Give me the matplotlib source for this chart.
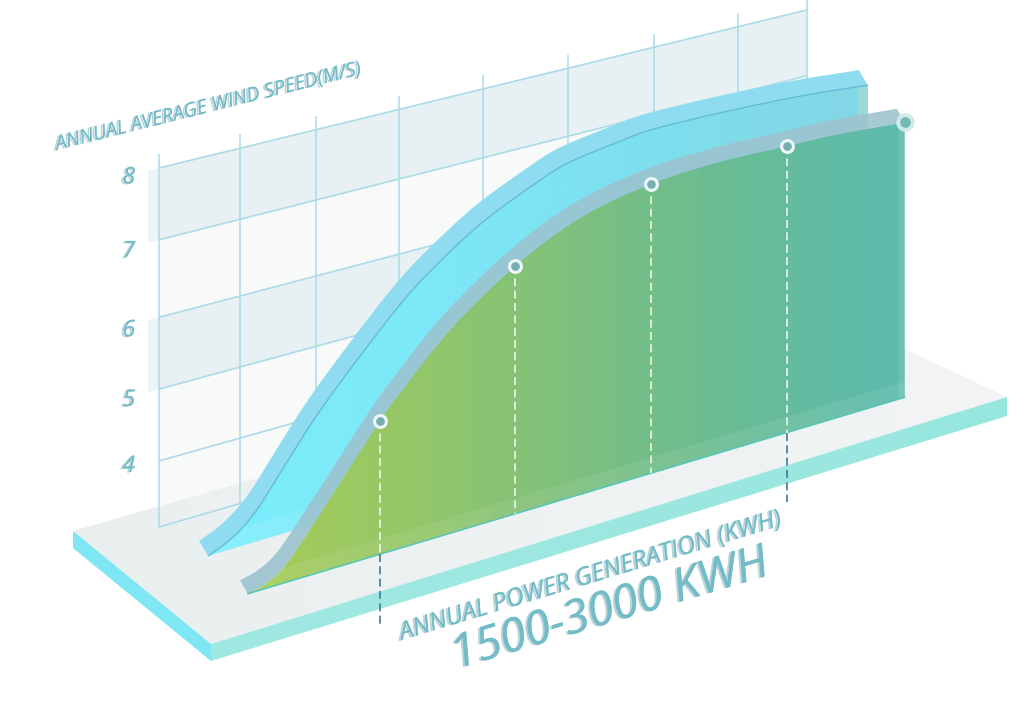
import numpy as np
import matplotlib
matplotlib.use("Agg")
import matplotlib.pyplot as plt
import matplotlib.patheffects as pe
from matplotlib.colors import LinearSegmentedColormap
from matplotlib.patches import PathPatch, Polygon
from matplotlib.path import Path

# ---- data ----
power_front = [1135, 1182, 1232, 1287, 1389, 1500, 1555, 1693, 1873, 2052, 2248, 2439, 2624, 2770, 2950]
speed_front = [3.00, 3.06, 3.21, 3.52, 4.16, 4.86, 5.16, 5.83, 6.45, 6.85, 7.03, 7.05, 6.99, 6.94, 6.83]
power_back = [1025, 1094, 1160, 1243, 1326, 1431, 1555, 1644, 1785, 1942, 2025, 2163, 2254, 2439, 2660, 2848]
speed_back = [3.00, 3.16, 3.44, 3.98, 4.51, 5.08, 5.70, 6.06, 6.51, 6.85, 6.98, 7.06, 7.09, 7.04, 6.94, 6.81]
marker_power = [1500, 1873, 2248, 2624, 2950]
marker_speed = [4.86, 6.45, 7.03, 6.99, 6.83]
leader_power = [1500, 2624]
grid_power = [889, 1113, 1323, 1552, 1785, 2019, 2257, 2489, 2680]
grid_speed = [3.0, 3.92, 4.92, 5.92, 7.0, 8.0]
tick_speed = [3.85, 4.77, 5.74, 6.84, 7.87]
tick_labels = ["4", "5", "6", "7", "8"]
y_title = "ANNUAL AVERAGE WIND SPEED(M/S)"
x_title = "ANNUAL POWER GENERATION (KWH)"
range_title = "1500-3000 KWH"

plt.rcParams['font.family'] = ['Open Sans', 'DejaVu Sans']

fig = plt.figure(figsize=(10.24, 7.14), dpi=100)
ax = fig.add_axes([0, 0, 1, 1])

TEXT = '#72bcc8'


def project(p, w, x0, y0, slope, taper=0.0):
    """Oblique projection of (kWh, m/s) on a wall to picture coordinates."""
    p, w = np.asarray(p, float), np.asarray(w, float)
    x = 380 + (p - 1500) * 0.3619
    y = y0 - (w - 3) * 71.8 + (x - x0) * (slope + (w - 3) * taper)
    return x, y


def front(p, w):
    return project(p, w, 247, 594, -0.299)


def back(p, w):
    return project(p, w, 208, 556, -0.299)


def wall(p, w):
    return project(p, w, 159, 527, -0.29, 0.0092)


def smooth_segments(pts):
    """Bezier handles (Catmull-Rom) through the read points."""
    pts = np.asarray(pts)
    verts = []
    for i in range(len(pts) - 1):
        p0 = pts[max(i - 1, 0)]
        p1, p2 = pts[i], pts[i + 1]
        p3 = pts[min(i + 2, len(pts) - 1)]
        verts += [p1 + (p2 - p0) / 6, p2 - (p3 - p1) / 6, p2]
    return verts


def face_path(pts, base_pt):
    v = [pts[0]] + smooth_segments(pts)
    c = [Path.MOVETO] + [Path.CURVE4] * (len(v) - 1)
    v += [base_pt, pts[0]]
    c += [Path.LINETO, Path.CLOSEPOLY]
    return Path(np.array(v), c)


def band_path(pts, off):
    pts = np.asarray(pts)
    outer = pts[::-1] + np.array(off)
    v = [pts[0]] + smooth_segments(pts)
    c = [Path.MOVETO] + [Path.CURVE4] * (len(v) - 1)
    v.append(outer[0]); c.append(Path.LINETO)
    s = smooth_segments(outer)
    v += s; c += [Path.CURVE4] * len(s)
    v.append(pts[0]); c.append(Path.CLOSEPOLY)
    return Path(np.array(v), c)


def curve_path(pts):
    v = [np.asarray(pts)[0]] + smooth_segments(pts)
    return Path(np.array(v), [Path.MOVETO] + [Path.CURVE4] * (len(v) - 1))


def gradient(path, colors, x1, x2, y1, y2, z, horizontal=True):
    cmap = LinearSegmentedColormap.from_list('g', colors)
    g = np.linspace(0, 1, 256)[None, :] if horizontal else np.linspace(0, 1, 256)[:, None]
    im = ax.imshow(g, cmap=cmap, extent=(x1, x2, y2, y1), aspect='auto', zorder=z, interpolation='bilinear')
    im.set_clip_path(PathPatch(path, transform=ax.transData))
    return im


# ---- platform ----
top_face = Path([(73, 531), (830, 314), (1007, 397), (211, 644), (73, 531)], closed=True)
gradient(top_face, ['#e9eeee', '#eef2f3', '#f2f4f5'], 73, 1007, 300, 650, 1)
ax.add_patch(Polygon([(73, 531), (211, 644), (211, 661), (73, 548)], fc='#7fe6f3', ec='none', zorder=1.1))
side = Path([(211, 644), (1007, 397), (1007, 416), (211, 661), (211, 644)], closed=True)
gradient(side, ['#a0e9e2', '#98e7de'], 211, 1007, 390, 665, 1.1)

# ---- back wall and grid ----
gp0, gp1 = grid_power[0], grid_power[-1]
for i in range(len(grid_speed) - 1):
    lo, hi = grid_speed[i], grid_speed[i + 1]
    shaded = i in (2, 4)
    xa, ya = wall([gp0, gp1, gp1, gp0], [lo, lo, hi, hi])
    ax.add_patch(Polygon(np.c_[xa, ya], fc='#e0ecf0' if shaded else '#f0f2f3',
                         alpha=0.75 if shaded else 0.45, ec='none', zorder=2))
    if shaded:
        xa, ya = wall([gp0 - 30, gp0, gp0, gp0 - 30], [lo, lo, hi, hi])
        ax.add_patch(Polygon(np.c_[xa, ya], fc='#e2edf0', alpha=0.6, ec='none', zorder=2))
for w in grid_speed:
    xa, ya = wall([gp0, gp1], [w, w])
    ax.plot(xa, ya, color='#acdbe8', lw=1.2, zorder=2.2, solid_capstyle='butt')
for p in grid_power:
    xa, ya = wall([p, p], [grid_speed[0], grid_speed[-1] + 0.2])
    ax.plot(xa, ya, color='#acdbe8', lw=1.1, zorder=2.2, solid_capstyle='butt')

# ---- back (blue) ribbon ----
bx, by = back(power_back, speed_back)
bpts = np.c_[bx, by]
bface = face_path(bpts, (bx[-1], back(power_back[-1], 3.0)[1]))
gradient(bface, ['#7beefc', '#7de8f8', '#7ddfee', '#84d6e4'], 208, 868, 0, 700, 3)
xa, ya = back([power_back[0], power_back[-1], power_back[-1], power_back[0]], [3.0, 3.0, 3.25, 3.25])
ax.add_patch(Polygon(np.c_[xa, ya], fc='white', alpha=0.1, ec='none', zorder=3.1))
end_strip = ax.axvspan(858, 868, color='#9fdcd6', alpha=0.8, lw=0, zorder=3.2)
end_strip.set_clip_path(PathPatch(bface, transform=ax.transData))
ax.add_patch(PathPatch(band_path(bpts, (-9, -15)), fc='#8fdcf0', ec='none', zorder=3.3))
ax.add_patch(PathPatch(curve_path(bpts), fc='none', ec='#64bcd4', lw=1.0, zorder=3.4))

# ---- front ribbon and gradient face ----
fx, fy = front(power_front, speed_front)
fpts = np.c_[fx, fy]
fbase = (fx[-1], front(power_front[-1], 3.0)[1])
fface = face_path(fpts, fbase)
gradient(fface, ['#a8cc58', '#94c768', '#7dc07e', '#68bc96', '#5cbbae'], 247, 906, 0, 700, 4)
xa, ya = front([power_front[0], power_front[-1], power_front[-1], power_front[0]], [3.0, 3.0, 3.22, 3.22])
st = ax.add_patch(Polygon(np.c_[xa, ya], fc='white', alpha=0.08, ec='none', zorder=4.1))
st.set_clip_path(PathPatch(fface, transform=ax.transData))
es = ax.axvspan(898, 907, color='white', alpha=0.1, lw=0, zorder=4.1)
es.set_clip_path(PathPatch(fface, transform=ax.transData))
ax.add_patch(PathPatch(band_path(fpts, (-8, -13.5)), fc='#9cc3cf', alpha=0.9, ec='none', zorder=4.3))
xa, ya = front([power_front[0], power_front[-1]], [3.0, 3.0])
ax.plot(xa, ya, color='#55c6b6', lw=1.1, zorder=4.4)

# ---- leader lines and markers ----
dash = (0, (4.8, 2.6))
for p, w in zip(marker_power[:-1], marker_speed[:-1]):
    xa, ya = front([p, p], [w, 3.0])
    ax.plot(xa, ya, color='#f2f8ee', lw=1.2, ls=dash, zorder=4.6, alpha=0.95)
for p in leader_power:
    xa, ya = front([p, p], [3.0, 2.03])
    ax.plot(xa, ya, color='#44789a', lw=1.2, ls=dash, zorder=4.6)
mx, my = front(marker_power, marker_speed)
ax.plot(mx[:-1], my[:-1], 'o', ms=8.5, mfc='#74aeb0', mec='#eef8f8', mew=2.2, ls='none', zorder=5)
ax.plot(mx[-1:], my[-1:], 'o', ms=10.5, mfc='#74b9b5', mec='#d0e9ea', mew=2.8, ls='none', zorder=5)

# ---- text ----
shadow = [pe.withSimplePatchShadow(offset=(-1.6, -0.6), shadow_rgbFace='#b4ced4', alpha=0.9), pe.Normal()]
ax.text(57, 150, y_title, fontsize=14.2, style='italic', color=TEXT, rotation=14,
        rotation_mode='anchor', ha='left', va='baseline', path_effects=shadow, zorder=6)
for w, lab in zip(tick_speed, tick_labels):
    x_, y_ = wall(gp0, w)
    ax.text(x_ - 30, y_, lab, fontsize=16.5, style='italic', color=TEXT, ha='center', va='center',
            path_effects=shadow, zorder=6)
ax.text(402, 640, x_title, fontsize=17.8, style='italic', color=TEXT, rotation=16.8,
        rotation_mode='anchor', ha='left', va='baseline', path_effects=shadow, zorder=6)
ax.text(456, 669, range_title, fontsize=33.5, style='italic', color=TEXT, rotation=16.7,
        rotation_mode='anchor', ha='left', va='baseline', path_effects=shadow, zorder=6)

ax.set_xlim(0, 1024)
ax.set_ylim(714, 0)
ax.axis('off')
fig.savefig('out.png', dpi=100, facecolor='white')
